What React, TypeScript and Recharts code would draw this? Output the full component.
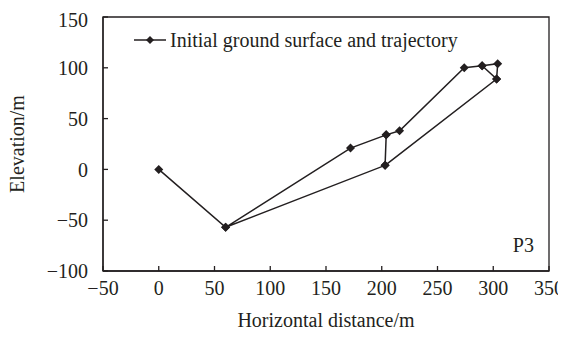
import { LineChart, Line, XAxis, YAxis, ReferenceArea, ReferenceDot, Label } from "recharts";

// horizontal distance (m) / elevation (m), in drawing order
const distances = [0, 60, 172, 204, 216, 274, 290, 304, 303, 290, 303, 203, 204, 203, 60];
const elevations = [0, -57, 21, 34, 38, 100, 102, 104, 89, 102, 89, 4, 34, 4, -57];

const xTicks = [-50, 0, 50, 100, 150, 200, 250, 300, 350];
const yTicks = [-100, -50, 0, 50, 100, 150];

const data = distances.map((x, i) => ({ x, y: elevations[i] }));

const INK = "#231f20";
const FONT = "'Liberation Serif', 'Times New Roman', serif";

const minus = (v: number) => String(v).replace("-", "\u2212");

const Diamond = (props: any) => {
  const { cx, cy, index } = props;
  if (cx == null || cy == null) return <g key={index} />;
  const r = 4.5;
  return (
    <path
      key={index}
      d={`M${cx},${cy - r}L${cx + r},${cy}L${cx},${cy + r}L${cx - r},${cy}Z`}
      fill={INK}
    />
  );
};

const App = () => {
  return (
    <div style={{ position: "relative", width: 558, height: 323, fontFamily: FONT }}>
      <style>{`.recharts-surface { overflow: visible !important; }`}</style>
      <LineChart
        width={558}
        height={323}
        data={data}
        margin={{ top: 9, right: 17, left: 0, bottom: 0 }}
      >
        <XAxis
          dataKey="x"
          type="number"
          domain={[-50, 350]}
          ticks={xTicks}
          tickFormatter={minus}
          height={60}
          tickSize={-5}
          tickMargin={15}
          stroke={INK}
          strokeWidth={1.3}
          tick={{ fill: INK, fontSize: 20, fontFamily: FONT }}
        >
          <Label
            value="Horizontal distance/m"
            position="insideBottom"
            offset={4}
            style={{ fill: INK, fontSize: 20, fontFamily: FONT }}
          />
        </XAxis>
        <YAxis
          type="number"
          domain={[-100, 150]}
          ticks={yTicks}
          tickFormatter={minus}
          width={95}
          tickSize={-5}
          tickMargin={20}
          stroke={INK}
          strokeWidth={1.3}
          tick={{ fill: INK, fontSize: 20, fontFamily: FONT }}
        >
          <Label
            content={(p: any) => {
              const vb = p.viewBox || {};
              const cx = 9;
              const cy = (vb.y ?? 0) + (vb.height ?? 0) / 2;
              return (
                <text
                  x={cx}
                  y={cy}
                  transform={`rotate(-90 ${cx} ${cy})`}
                  textAnchor="middle"
                  dominantBaseline="central"
                  fill={INK}
                  fontSize={20}
                  fontFamily={FONT}
                >
                  Elevation/m
                </text>
              );
            }}
          />
        </YAxis>
        <ReferenceArea x1={-50} x2={350} y1={-100} y2={150} fill="none" stroke={INK} strokeWidth={1.3} fillOpacity={0} />
        <Line
          type="linear"
          dataKey="y"
          stroke={INK}
          strokeWidth={1.5}
          dot={Diamond}
          activeDot={false}
          isAnimationActive={false}
        />
        <ReferenceDot x={327} y={-74} r={0} fill="none" stroke="none">
          <Label value="P3" position="center" style={{ fill: INK, fontSize: 20, fontFamily: FONT }} />
        </ReferenceDot>
      </LineChart>
      <svg width={33} height={12} style={{ position: "absolute", left: 126, top: 26 }}>
        <line x1={0} y1={6} x2={32} y2={6} stroke={INK} strokeWidth={1.5} />
        <path d="M16,2L20,6L16,10L12,6Z" fill={INK} />
      </svg>
      <div
        style={{
          position: "absolute",
          left: 162,
          top: 20,
          color: INK,
          fontSize: 20,
          whiteSpace: "nowrap",
          lineHeight: "24px",
        }}
      >
        Initial ground surface and trajectory
      </div>
    </div>
  );
};

export default App;
